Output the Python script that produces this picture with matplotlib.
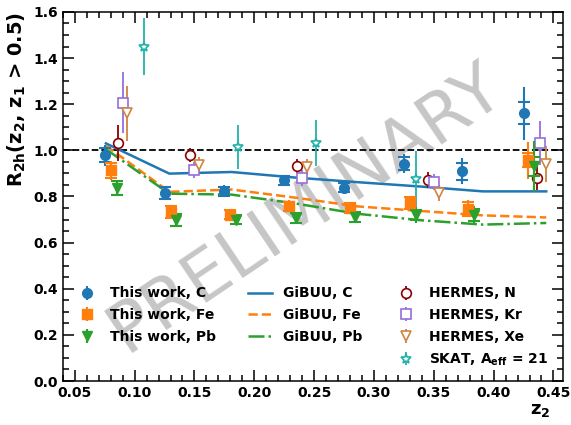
import numpy as np
import matplotlib
matplotlib.use("Agg")
import matplotlib.pyplot as plt
from matplotlib.ticker import MultipleLocator
from matplotlib.lines import Line2D

plt.rcParams['font.family'] = 'DejaVu Sans'
plt.rcParams['font.weight'] = 'bold'
plt.rcParams['mathtext.fontset'] = 'dejavusans'
plt.rcParams['mathtext.default'] = 'bf'

# this work
z_c = [0.075, 0.125, 0.175, 0.225, 0.275, 0.325, 0.374, 0.425]
r_c = [0.978, 0.815, 0.823, 0.870, 0.838, 0.942, 0.910, 1.161]
stat_c = [0.030, 0.025, 0.020, 0.020, 0.020, 0.028, 0.037, 0.048]
tot_c = [0.045, 0.030, 0.025, 0.025, 0.025, 0.040, 0.056, 0.115]

z_fe = [0.080, 0.130, 0.180, 0.229, 0.280, 0.330, 0.379, 0.429]
r_fe = [0.913, 0.733, 0.721, 0.758, 0.750, 0.772, 0.747, 0.957]
stat_fe = [0.033, 0.025, 0.020, 0.020, 0.020, 0.025, 0.030, 0.030]
tot_fe = [0.040, 0.030, 0.025, 0.025, 0.025, 0.030, 0.036, 0.080]

z_pb = [0.085, 0.135, 0.185, 0.235, 0.284, 0.335, 0.384, 0.434]
r_pb = [0.835, 0.697, 0.700, 0.707, 0.711, 0.720, 0.719, 0.930]
stat_pb = [0.030, 0.025, 0.020, 0.020, 0.020, 0.020, 0.025, 0.040]
tot_pb = [0.035, 0.030, 0.025, 0.025, 0.025, 0.035, 0.040, 0.110]

# GiBUU
z_gibuu = [0.076, 0.129, 0.181, 0.234, 0.286, 0.339, 0.391, 0.444]
gibuu_c = [1.030, 0.899, 0.906, 0.882, 0.862, 0.843, 0.822, 0.822]
gibuu_fe = [1.020, 0.820, 0.830, 0.795, 0.757, 0.737, 0.718, 0.709]
gibuu_pb = [1.005, 0.812, 0.808, 0.770, 0.725, 0.697, 0.678, 0.685]

# HERMES
z_n = [0.086, 0.146, 0.236, 0.345, 0.436]
r_n = [1.030, 0.978, 0.931, 0.873, 0.882]
e_n = [0.078, 0.030, 0.030, 0.035, 0.054]
z_kr = [0.090, 0.150, 0.240, 0.350, 0.439]
r_kr = [1.206, 0.916, 0.880, 0.863, 1.033]
e_kr = [0.133, 0.035, 0.035, 0.035, 0.096]
z_xe = [0.094, 0.154, 0.244, 0.354, 0.444]
r_xe = [1.160, 0.935, 0.928, 0.815, 0.940]
e_xe = [0.120, 0.035, 0.035, 0.035, 0.078]

# SKAT
z_skat = [0.108, 0.186, 0.252, 0.335]
r_skat = [1.450, 1.014, 1.030, 0.874]
e_skat = [0.123, 0.095, 0.100, 0.124]

fig = plt.figure(figsize=(5.71, 4.25), dpi=100)
ax = fig.add_axes([0.110, 0.1035, 0.876, 0.8685])

ax.text(0.242, 0.75, 'PRELIMINARY', fontsize=50, fontweight='normal',
        color='gray', alpha=0.45, rotation=34, ha='center', va='center', zorder=0)

ax.axhline(1.0, color='k', ls='--', lw=1.3, zorder=1)

# gibuu curves
ax.plot(z_gibuu, gibuu_c, color='tab:blue', lw=1.8, label='GiBUU, C')
ax.plot(z_gibuu, gibuu_fe, color='tab:orange', lw=1.8, ls='--', label='GiBUU, Fe')
ax.plot(z_gibuu, gibuu_pb, color='tab:green', lw=1.8, ls='-.', label='GiBUU, Pb')

# data of this work, two errorbars (inner with caps)
mine = [(z_c, r_c, stat_c, tot_c, 'tab:blue', 'o', 'This work, C'),
        (z_fe, r_fe, stat_fe, tot_fe, 'tab:orange', 's', 'This work, Fe'),
        (z_pb, r_pb, stat_pb, tot_pb, 'tab:green', 'v', 'This work, Pb')]
hmine = []
for z, r, st, tt, col, mk, lab in mine:
    h = ax.errorbar(z, r, yerr=tt, fmt=mk, color=col, ms=7, elinewidth=1.5,
                    capsize=0, label=lab, zorder=4)
    ax.errorbar(z, r, yerr=st, fmt='none', ecolor=col, elinewidth=1.5,
                capsize=4, capthick=1.5, zorder=4)
    hmine.append(h)

others = [(z_n, r_n, e_n, 'darkred', 'o', 'HERMES, N'),
          (z_kr, r_kr, e_kr, 'mediumpurple', 's', 'HERMES, Kr'),
          (z_xe, r_xe, e_xe, 'peru', 'v', 'HERMES, Xe'),
          (z_skat, r_skat, e_skat, 'lightseagreen', '*', r'SKAT, A$_{eff}$ = 21')]
hoth = []
for z, r, e, col, mk, lab in others:
    h = ax.errorbar(z, r, yerr=e, fmt=mk, color=col, mfc='white', mec=col,
                    ms=7, elinewidth=1.3, mew=1.2,
                    capsize=0, label=lab, zorder=3)
    hoth.append(h)

hg = ax.get_lines()[1:4]
blank = Line2D([], [], ls='none')
handles = hmine + [blank] + list(hg) + [blank] + hoth
labels = [h.get_label() for h in handles]
labels[3] = ''
labels[7] = ''
ax.legend(handles, labels, ncol=3, loc='upper left', bbox_to_anchor=(0.0, 0.29),
          frameon=False, handlelength=1.7, columnspacing=2.3,
          labelspacing=0.55, prop={'weight': 'bold', 'size': 10})

ax.set_xlim(0.04, 0.458)
ax.set_ylim(0.0, 1.6)
ax.xaxis.set_major_locator(MultipleLocator(0.05))
ax.xaxis.set_minor_locator(MultipleLocator(0.01))
ax.yaxis.set_major_locator(MultipleLocator(0.2))
ax.yaxis.set_minor_locator(MultipleLocator(0.05))
ax.tick_params(which='both', direction='in', top=True, right=True, labelsize=10, width=1.1)
ax.tick_params(which='major', length=8)
ax.tick_params(which='minor', length=4)
for lab in ax.get_xticklabels() + ax.get_yticklabels():
    lab.set_fontweight('bold')
for s in ax.spines.values():
    s.set_linewidth(1.1)

ax.set_ylabel(r'R$_{2h}$(z$_2$, z$_1$ > 0.5)', fontsize=14, fontweight='bold', loc='top')
ax.set_xlabel(r'z$_2$', fontsize=13, fontweight='bold', loc='right')
ax.xaxis.set_label_coords(0.975, -0.055)

fig.savefig('out.png', dpi=100)
